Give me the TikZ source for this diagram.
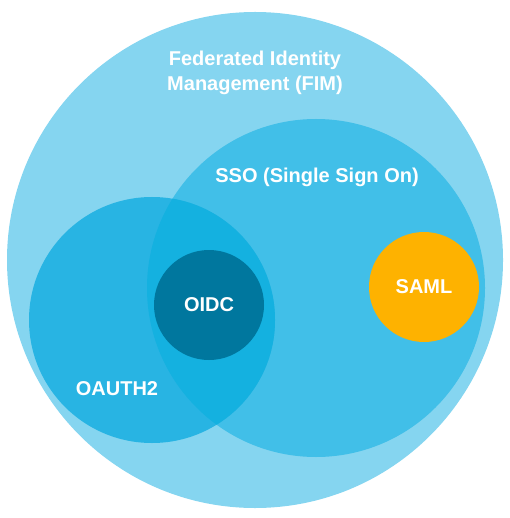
\documentclass[tikz,border=0pt]{standalone}
\usepackage{fontspec}
\setmainfont{Liberation Sans}
\begin{document}
\begin{tikzpicture}[x=1pt,y=-1pt,
  every node/.style={text=white,font=\bfseries\fontsize{20}{25}\selectfont,align=center},
  disc/.style={circle,draw=none,inner sep=0pt}]
\definecolor{fimblue}{HTML}{85D5F0}
\definecolor{ssoblue}{HTML}{41BFE8}
\definecolor{oauthblue}{HTML}{28B4E3}
\definecolor{overlapblue}{HTML}{14B1E0}
\definecolor{oidcteal}{HTML}{00779E}
\definecolor{samlamber}{HTML}{FEB200}
\useasboundingbox (0,0) rectangle (509,518);
% outer federation circle
\fill[fimblue] (255,260) circle (248);
% SSO circle
\fill[ssoblue] (316,288) circle (169);
% OAuth2 circle
\fill[oauthblue] (152,320) circle (123);
% overlap of OAuth2 and SSO
\begin{scope}
  \clip (152,320) circle (123);
  \fill[overlapblue] (316,288) circle (169);
\end{scope}
% inner protocols
\node[disc,fill=oidcteal,minimum size=110pt] (oidc) at (209,305) {OIDC};
\node[disc,fill=samlamber,minimum size=110pt] (saml) at (424,287) {SAML};
% labels
\node (fim) at (255,73) {Federated Identity\\Management (FIM)};
\node (sso) at (317,177) {SSO (Single Sign On)};
\node (oauth) at (117,389) {OAUTH2};
\end{tikzpicture}
\end{document}
